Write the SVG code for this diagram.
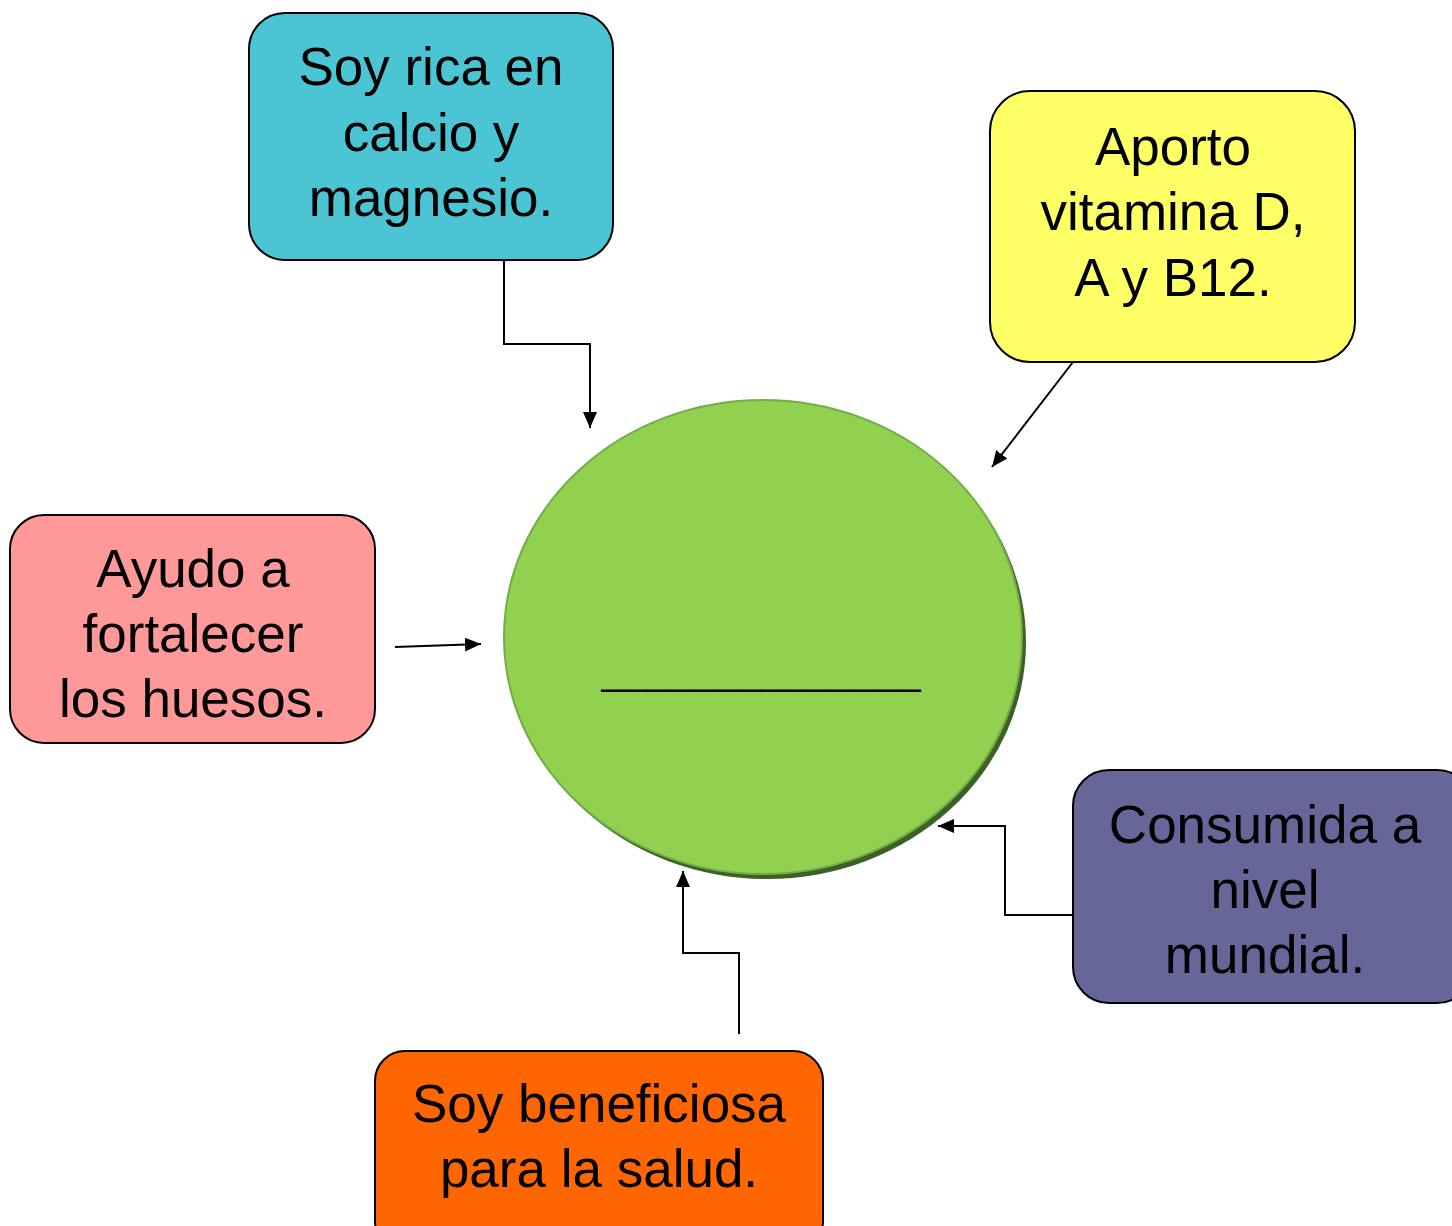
<svg xmlns="http://www.w3.org/2000/svg" width="1452" height="1226" viewBox="0 0 1452 1226">
<style>
.box{stroke:#000;stroke-width:2}
.t{font-family:"Liberation Sans",Arial,sans-serif;font-size:53px;fill:#000;text-anchor:middle}
.c{fill:none;stroke:#000;stroke-width:2}
</style>
<defs>
<marker id="ah" viewBox="0 0 16 14" refX="16" refY="7" markerWidth="16" markerHeight="14" markerUnits="userSpaceOnUse" orient="auto">
<path d="M0,0 L16,7 L0,14 Z" fill="#000"/>
</marker>
</defs>
<rect width="1452" height="1226" fill="#fff"/>
<g id="center">
<ellipse cx="767" cy="642" rx="259" ry="237" fill="#3e5f28"/>
<ellipse cx="763" cy="637" rx="259" ry="237" fill="#92d050" stroke="#72ad45" stroke-width="2"/>
<text class="t" x="761" y="684" style="font-size:41px">______________</text>
</g>
<g id="n1">
<rect class="box" x="249" y="13" width="364" height="247" rx="36" fill="#4bc5d4"/>
<text class="t" x="431" y="85">Soy rica en</text>
<text class="t" x="431" y="151">calcio y</text>
<text class="t" x="431" y="216">magnesio.</text>
</g>
<g id="n2">
<rect class="box" x="990" y="91" width="365" height="271" rx="40" fill="#ffff66"/>
<text class="t" x="1173" y="165">Aporto</text>
<text class="t" x="1173" y="230">vitamina D,</text>
<text class="t" x="1173" y="296">A y B12.</text>
</g>
<g id="n3">
<rect class="box" x="10" y="515" width="365" height="228" rx="34" fill="#ff9999"/>
<text class="t" x="193" y="587">Ayudo a</text>
<text class="t" x="193" y="652">fortalecer</text>
<text class="t" x="193" y="717">los huesos.</text>
</g>
<g id="n4">
<rect class="box" x="1073" y="770" width="400" height="233" rx="36" fill="#666699"/>
<text class="t" x="1265" y="843">Consumida a</text>
<text class="t" x="1265" y="908">nivel</text>
<text class="t" x="1265" y="973">mundial.</text>
</g>
<g id="n5">
<rect class="box" x="375" y="1051" width="448" height="200" rx="30" fill="#ff6600"/>
<text class="t" x="599" y="1122">Soy beneficiosa</text>
<text class="t" x="599" y="1187">para la salud.</text>
</g>
<g id="connectors">
<path class="c" d="M504,260 V344 H590 V428" marker-end="url(#ah)"/>
<path class="c" d="M1073,362 L992,467" marker-end="url(#ah)"/>
<path class="c" d="M395,647 L481,644" marker-end="url(#ah)"/>
<path class="c" d="M1073,915 H1005 V826 H938" marker-end="url(#ah)"/>
<path class="c" d="M739,1034 V953 H683 V871" marker-end="url(#ah)"/>
</g>
</svg>
